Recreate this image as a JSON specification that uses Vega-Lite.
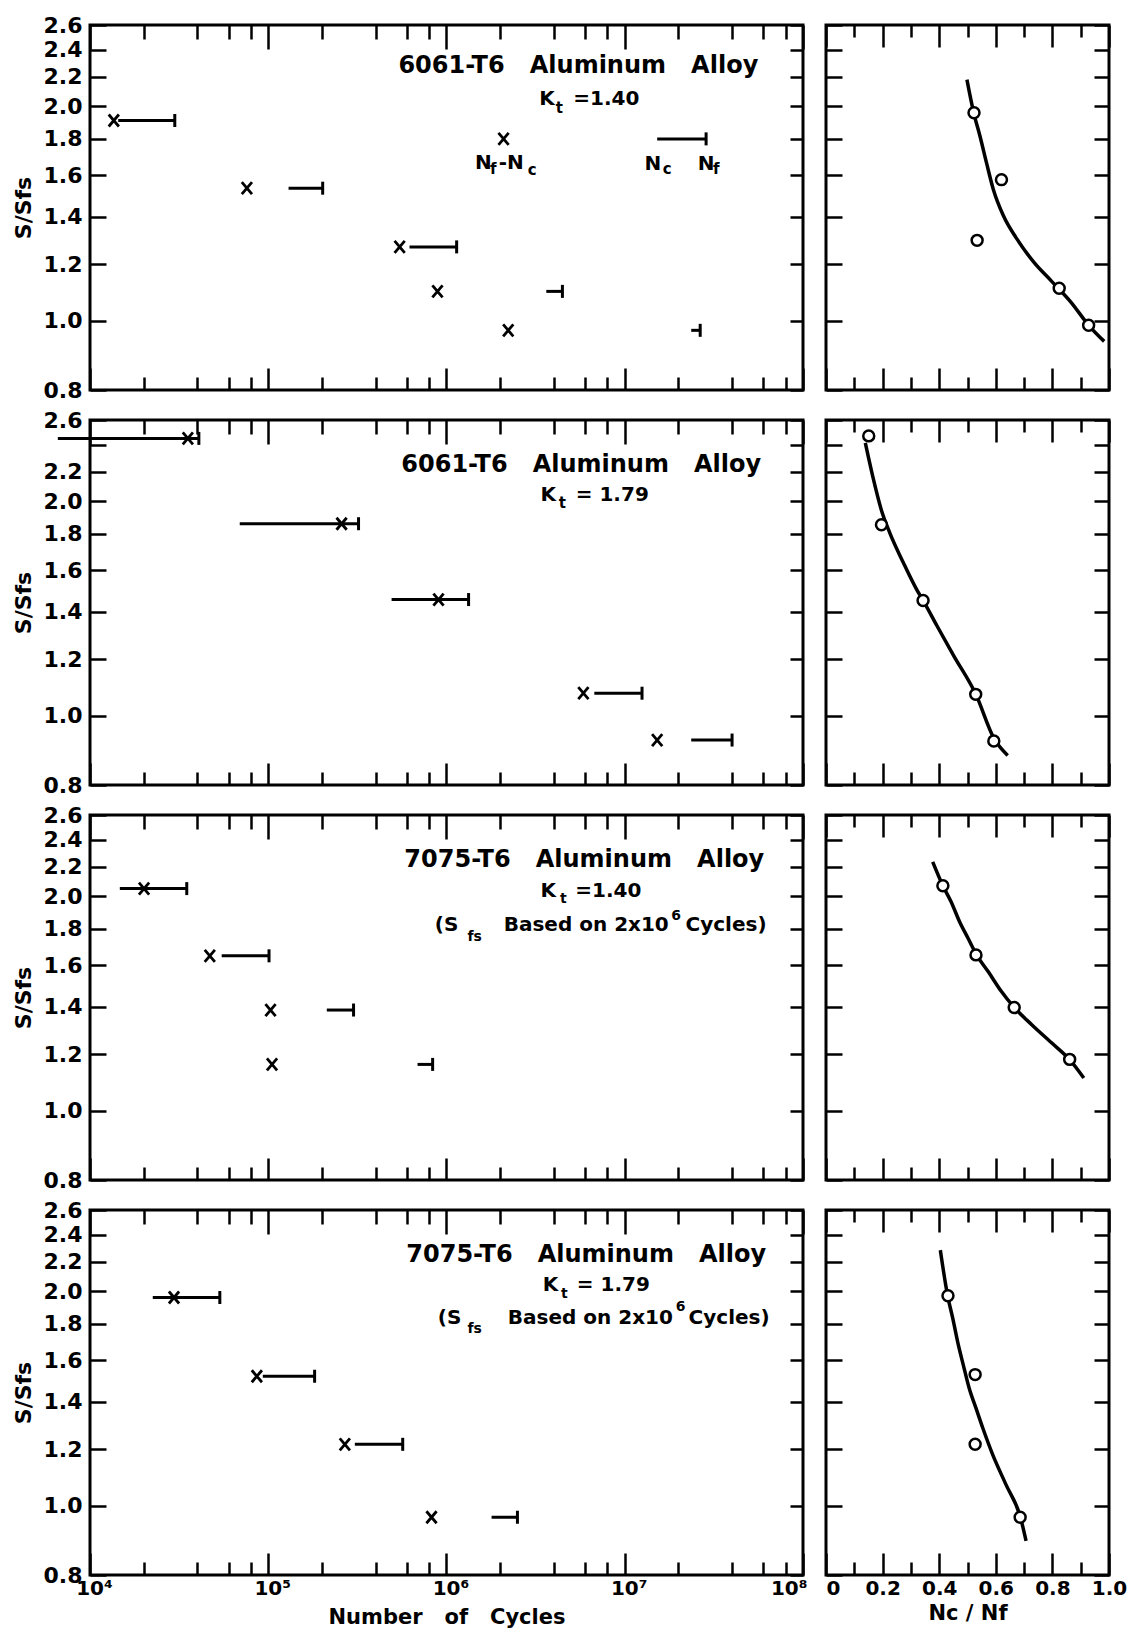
{
  "$schema": "https://vega.github.io/schema/vega-lite/v6.json",
  "background": "white",
  "padding": {"left": 10, "top": 12, "right": 10, "bottom": 6},
  "config": {
    "view": {"stroke": "black", "strokeWidth": 3},
    "font": "DejaVu Sans",
    "axis": {
      "domain": false, "grid": false, "tickSize": 0, "tickWidth": 2.5, "tickColor": "black",
      "labelFont": "DejaVu Sans", "labelFontWeight": "bold", "labelFontSize": 21, "labelColor": "black",
      "labelFlush": false, "labelOverlap": false,
      "titleFont": "DejaVu Sans", "titleFontWeight": "bold", "titleFontSize": 22, "titleColor": "black"
    }
  },
  "datasets": {
    "tests": [
      {"panel": 1, "S": 1.91, "Nc": 14400, "Nf": 29900, "Nx": 13600},
      {"panel": 1, "S": 1.535, "Nc": 130000, "Nf": 202000, "Nx": 75900},
      {"panel": 1, "S": 1.27, "Nc": 620000, "Nf": 1140000, "Nx": 546000},
      {"panel": 1, "S": 1.10, "Nc": 3630000, "Nf": 4470000, "Nx": 890000},
      {"panel": 1, "S": 0.97, "Nc": 23600000, "Nf": 26500000, "Nx": 2220000},
      {"panel": 1, "S": 1.80, "Nc": 15200000, "Nf": 28600000, "Nx": 2090000, "role": "key"},
      {"panel": 2, "S": 2.45, "Nc": 6600, "Nf": 40800, "Nx": 35400},
      {"panel": 2, "S": 1.86, "Nc": 69200, "Nf": 321000, "Nx": 258000},
      {"panel": 2, "S": 1.456, "Nc": 492000, "Nf": 1330000, "Nx": 902000},
      {"panel": 2, "S": 1.076, "Nc": 6750000, "Nf": 12500000, "Nx": 5860000},
      {"panel": 2, "S": 0.925, "Nc": 23600000, "Nf": 40000000, "Nx": 15200000},
      {"panel": 3, "S": 2.05, "Nc": 14700, "Nf": 34900, "Nx": 20100},
      {"panel": 3, "S": 1.65, "Nc": 54800, "Nf": 101000, "Nx": 47000},
      {"panel": 3, "S": 1.385, "Nc": 213000, "Nf": 301000, "Nx": 103000},
      {"panel": 3, "S": 1.162, "Nc": 688000, "Nf": 836000, "Nx": 105000},
      {"panel": 4, "S": 1.96, "Nc": 22500, "Nf": 53500, "Nx": 29600},
      {"panel": 4, "S": 1.52, "Nc": 93200, "Nf": 182000, "Nx": 86300},
      {"panel": 4, "S": 1.22, "Nc": 306000, "Nf": 568000, "Nx": 269000},
      {"panel": 4, "S": 0.964, "Nc": 1790000, "Nf": 2500000, "Nx": 824000}
    ],
    "ratios": [
      {"panel": 1, "r": 0.523, "S": 1.958},
      {"panel": 1, "r": 0.620, "S": 1.578},
      {"panel": 1, "r": 0.534, "S": 1.297},
      {"panel": 1, "r": 0.824, "S": 1.111},
      {"panel": 1, "r": 0.928, "S": 0.986},
      {"panel": 2, "r": 0.151, "S": 2.47},
      {"panel": 2, "r": 0.196, "S": 1.854},
      {"panel": 2, "r": 0.343, "S": 1.452},
      {"panel": 2, "r": 0.529, "S": 1.072},
      {"panel": 2, "r": 0.593, "S": 0.922},
      {"panel": 3, "r": 0.413, "S": 2.069},
      {"panel": 3, "r": 0.530, "S": 1.655},
      {"panel": 3, "r": 0.665, "S": 1.396},
      {"panel": 3, "r": 0.861, "S": 1.181},
      {"panel": 4, "r": 0.431, "S": 1.971},
      {"panel": 4, "r": 0.527, "S": 1.528},
      {"panel": 4, "r": 0.527, "S": 1.220},
      {"panel": 4, "r": 0.686, "S": 0.964}
    ],
    "curves": [
      {"panel": 1, "r": 0.498, "S": 2.180}, {"panel": 1, "r": 0.522, "S": 1.958}, {"panel": 1, "r": 0.544, "S": 1.817},
      {"panel": 1, "r": 0.567, "S": 1.667}, {"panel": 1, "r": 0.591, "S": 1.530}, {"panel": 1, "r": 0.627, "S": 1.404},
      {"panel": 1, "r": 0.675, "S": 1.302}, {"panel": 1, "r": 0.735, "S": 1.208}, {"panel": 1, "r": 0.795, "S": 1.139},
      {"panel": 1, "r": 0.866, "S": 1.062}, {"panel": 1, "r": 0.929, "S": 0.985}, {"panel": 1, "r": 0.983, "S": 0.936},
      {"panel": 2, "r": 0.139, "S": 2.414}, {"panel": 2, "r": 0.165, "S": 2.169}, {"panel": 2, "r": 0.195, "S": 1.948},
      {"panel": 2, "r": 0.225, "S": 1.807}, {"panel": 2, "r": 0.273, "S": 1.641}, {"panel": 2, "r": 0.320, "S": 1.505},
      {"panel": 2, "r": 0.344, "S": 1.450}, {"panel": 2, "r": 0.392, "S": 1.338}, {"panel": 2, "r": 0.451, "S": 1.215},
      {"panel": 2, "r": 0.529, "S": 1.073}, {"panel": 2, "r": 0.594, "S": 0.929}, {"panel": 2, "r": 0.642, "S": 0.880},
      {"panel": 3, "r": 0.377, "S": 2.235}, {"panel": 3, "r": 0.413, "S": 2.069}, {"panel": 3, "r": 0.442, "S": 1.965},
      {"panel": 3, "r": 0.472, "S": 1.842}, {"panel": 3, "r": 0.502, "S": 1.746}, {"panel": 3, "r": 0.531, "S": 1.658},
      {"panel": 3, "r": 0.573, "S": 1.568}, {"panel": 3, "r": 0.620, "S": 1.470}, {"panel": 3, "r": 0.664, "S": 1.398},
      {"panel": 3, "r": 0.727, "S": 1.321}, {"panel": 3, "r": 0.798, "S": 1.245}, {"panel": 3, "r": 0.861, "S": 1.180},
      {"panel": 3, "r": 0.911, "S": 1.112},
      {"panel": 4, "r": 0.404, "S": 2.284}, {"panel": 4, "r": 0.430, "S": 1.969}, {"panel": 4, "r": 0.448, "S": 1.832},
      {"panel": 4, "r": 0.465, "S": 1.700}, {"panel": 4, "r": 0.485, "S": 1.577}, {"panel": 4, "r": 0.506, "S": 1.462},
      {"panel": 4, "r": 0.530, "S": 1.371}, {"panel": 4, "r": 0.554, "S": 1.286}, {"panel": 4, "r": 0.589, "S": 1.180},
      {"panel": 4, "r": 0.636, "S": 1.071}, {"panel": 4, "r": 0.687, "S": 0.964}, {"panel": 4, "r": 0.707, "S": 0.893}
    ],
    "notes": [
      {"panel": 1, "role": "heading", "N": 5490000, "S": 2.279, "text": "6061-T6\u00a0\u00a0\u00a0Aluminum\u00a0\u00a0\u00a0Alloy"},
      {"panel": 1, "role": "label", "N": 3660000, "S": 2.049, "text": "K"},
      {"panel": 1, "role": "subscript", "N": 4300000, "S": 1.990, "text": "t"},
      {"panel": 1, "role": "label", "N": 7880000, "S": 2.049, "text": "=1.40"},
      {"panel": 1, "role": "label", "N": 1610000, "S": 1.667, "text": "N"},
      {"panel": 1, "role": "subscript", "N": 1830000, "S": 1.635, "text": "f"},
      {"panel": 1, "role": "label", "N": 2310000, "S": 1.667, "text": "-N"},
      {"panel": 1, "role": "subscript", "N": 3030000, "S": 1.630, "text": "c"},
      {"panel": 1, "role": "label", "N": 14400000, "S": 1.662, "text": "N"},
      {"panel": 1, "role": "subscript", "N": 17300000, "S": 1.635, "text": "c"},
      {"panel": 1, "role": "label", "N": 28600000, "S": 1.662, "text": "N"},
      {"panel": 1, "role": "subscript", "N": 32600000, "S": 1.635, "text": "f"},
      {"panel": 2, "role": "heading", "N": 5700000, "S": 2.249, "text": "6061-T6\u00a0\u00a0\u00a0Aluminum\u00a0\u00a0\u00a0Alloy"},
      {"panel": 2, "role": "label", "N": 3720000, "S": 2.042, "text": "K"},
      {"panel": 2, "role": "subscript", "N": 4470000, "S": 1.990, "text": "t"},
      {"panel": 2, "role": "label", "N": 8510000, "S": 2.042, "text": "= 1.79"},
      {"panel": 3, "role": "heading", "N": 5930000, "S": 2.249, "text": "7075-T6\u00a0\u00a0\u00a0Aluminum\u00a0\u00a0\u00a0Alloy"},
      {"panel": 3, "role": "label", "N": 3720000, "S": 2.036, "text": "K"},
      {"panel": 3, "role": "subscript", "N": 4520000, "S": 1.984, "text": "t"},
      {"panel": 3, "role": "label", "N": 8090000, "S": 2.036, "text": "=1.40"},
      {"panel": 3, "role": "label", "N": 1000000, "S": 1.824, "text": "(S"},
      {"panel": 3, "role": "subscript", "N": 1440000, "S": 1.755, "text": "fs"},
      {"panel": 3, "role": "label", "N": 6080000, "S": 1.824, "text": "Based on 2x10"},
      {"panel": 3, "role": "subscript", "N": 19400000, "S": 1.878, "text": "6"},
      {"panel": 3, "role": "label", "N": 37000000, "S": 1.824, "text": "Cycles)"},
      {"panel": 4, "role": "heading", "N": 6080000, "S": 2.249, "text": "7075-T6\u00a0\u00a0\u00a0Aluminum\u00a0\u00a0\u00a0Alloy"},
      {"panel": 4, "role": "label", "N": 3830000, "S": 2.042, "text": "K"},
      {"panel": 4, "role": "subscript", "N": 4580000, "S": 1.984, "text": "t"},
      {"panel": 4, "role": "label", "N": 8630000, "S": 2.042, "text": "= 1.79"},
      {"panel": 4, "role": "label", "N": 1040000, "S": 1.836, "text": "(S"},
      {"panel": 4, "role": "subscript", "N": 1440000, "S": 1.772, "text": "fs"},
      {"panel": 4, "role": "label", "N": 6410000, "S": 1.836, "text": "Based on 2x10"},
      {"panel": 4, "role": "subscript", "N": 20600000, "S": 1.903, "text": "6"},
      {"panel": 4, "role": "label", "N": 38500000, "S": 1.836, "text": "Cycles)"}
    ]
  },
  "columns": 2,
  "bounds": "flush",
  "spacing": {"row": 30, "column": 23},
  "concat": [
    {
      "width": 713, "height": 365,
      "layer": [
        {"data": {"name": "tests"}, "transform": [{"filter": "datum.panel == 1"}],
         "mark": {"type": "rule", "strokeWidth": 3, "color": "black", "clip": false},
         "encoding": {
           "x": {"field": "Nc", "type": "quantitative", "scale": {"type": "log", "domain": [10000, 100000000], "nice": false},
                 "axis": {"orient": "bottom", "labels": false, "title": null, "values": [10000, 20000, 40000, 60000, 80000, 100000, 200000, 400000, 600000, 800000, 1000000, 2000000, 4000000, 6000000, 8000000, 10000000, 20000000, 40000000, 60000000, 80000000, 100000000],
                          "encoding": {"ticks": {"y2": {"condition": {"test": "indexof([10000, 100000, 1000000, 10000000, 100000000], datum.value) >= 0", "value": -22}, "value": -13}}}}},
           "x2": {"field": "Nf"},
           "y": {"field": "S", "type": "quantitative", "scale": {"type": "log", "domain": [0.8, 2.6], "nice": false},
                 "axis": {"orient": "left", "values": [0.8, 1, 1.2, 1.4, 1.6, 1.8, 2, 2.2, 2.4, 2.6], "format": ".1f", "labelFontSize": 22, "labelPadding": 8, "title": "S/Sfs", "titlePadding": 8,
                          "encoding": {"ticks": {"x2": {"value": 16}}}}}
         }},
        {"data": {"name": "tests"}, "transform": [{"filter": "datum.panel == 1"}],
         "mark": {"type": "point", "shape": "M0,-1L0,1", "size": 169, "filled": false, "stroke": "black", "strokeWidth": 3, "opacity": 1},
         "encoding": {
           "x": {"field": "Nf", "type": "quantitative", "scale": {"type": "log", "domain": [10000, 100000000], "nice": false},
                 "axis": {"orient": "top", "labels": false, "title": null, "values": [10000, 20000, 40000, 60000, 80000, 100000, 200000, 400000, 600000, 800000, 1000000, 2000000, 4000000, 6000000, 8000000, 10000000, 20000000, 40000000, 60000000, 80000000, 100000000],
                          "encoding": {"ticks": {"y2": {"condition": {"test": "indexof([10000, 100000, 1000000, 10000000, 100000000], datum.value) >= 0", "value": 24}, "value": 14}}}}},
           "y": {"field": "S", "type": "quantitative", "scale": {"type": "log", "domain": [0.8, 2.6], "nice": false},
                 "axis": {"orient": "right", "labels": false, "title": null, "values": [0.8, 1, 1.2, 1.4, 1.6, 1.8, 2, 2.2, 2.4, 2.6],
                          "encoding": {"ticks": {"x2": {"value": -13}}}}}
         }},
        {"data": {"name": "tests"}, "transform": [{"filter": "datum.panel == 1"}],
         "mark": {"type": "point", "shape": "M-0.85,-1L0.85,1M-0.85,1L0.85,-1", "size": 144, "filled": false, "stroke": "black", "strokeWidth": 2.8, "opacity": 1},
         "encoding": {
           "x": {"field": "Nx", "type": "quantitative", "scale": {"type": "log", "domain": [10000, 100000000], "nice": false}, "axis": null},
           "y": {"field": "S", "type": "quantitative", "scale": {"type": "log", "domain": [0.8, 2.6], "nice": false}, "axis": null}
         }},
        {"data": {"name": "notes"}, "transform": [{"filter": "datum.panel == 1 && datum.role == 'heading'"}],
         "mark": {"type": "text", "font": "DejaVu Sans", "fontWeight": "bold", "fontSize": 24, "align": "center", "baseline": "middle", "color": "black"},
         "encoding": {
           "x": {"field": "N", "type": "quantitative", "scale": {"type": "log", "domain": [10000, 100000000], "nice": false}, "axis": null},
           "y": {"field": "S", "type": "quantitative", "scale": {"type": "log", "domain": [0.8, 2.6], "nice": false}, "axis": null},
           "text": {"field": "text"}
         }},
        {"data": {"name": "notes"}, "transform": [{"filter": "datum.panel == 1 && datum.role == 'label'"}],
         "mark": {"type": "text", "font": "DejaVu Sans", "fontWeight": "bold", "fontSize": 20, "align": "center", "baseline": "middle", "color": "black"},
         "encoding": {
           "x": {"field": "N", "type": "quantitative", "scale": {"type": "log", "domain": [10000, 100000000], "nice": false}, "axis": null},
           "y": {"field": "S", "type": "quantitative", "scale": {"type": "log", "domain": [0.8, 2.6], "nice": false}, "axis": null},
           "text": {"field": "text"}
         }},
        {"data": {"name": "notes"}, "transform": [{"filter": "datum.panel == 1 && datum.role == 'subscript'"}],
         "mark": {"type": "text", "font": "DejaVu Sans", "fontWeight": "bold", "fontSize": 15, "align": "center", "baseline": "middle", "color": "black"},
         "encoding": {
           "x": {"field": "N", "type": "quantitative", "scale": {"type": "log", "domain": [10000, 100000000], "nice": false}, "axis": null},
           "y": {"field": "S", "type": "quantitative", "scale": {"type": "log", "domain": [0.8, 2.6], "nice": false}, "axis": null},
           "text": {"field": "text"}
         }}
      ],
      "resolve": {"axis": {"x": "independent", "y": "independent"}}
    },
    {
      "width": 283, "height": 365,
      "layer": [
        {"data": {"name": "curves"}, "transform": [{"filter": "datum.panel == 1"}],
         "mark": {"type": "line", "strokeWidth": 3.5, "color": "black", "interpolate": "monotone"},
         "encoding": {
           "x": {"field": "r", "type": "quantitative", "scale": {"domain": [0, 1], "nice": false, "zero": false},
                 "axis": {"orient": "bottom", "labels": false, "title": null, "values": [0, 0.1, 0.2, 0.3, 0.4, 0.5, 0.6, 0.7, 0.8, 0.9, 1],
                          "encoding": {"ticks": {"y2": {"condition": {"test": "round(datum.value * 10) % 2 == 0", "value": -22}, "value": -13}}}}},
           "y": {"field": "S", "type": "quantitative", "scale": {"type": "log", "domain": [0.8, 2.6], "nice": false},
                 "axis": {"orient": "left", "labels": false, "title": null, "values": [0.8, 1, 1.2, 1.4, 1.6, 1.8, 2, 2.2, 2.4, 2.6],
                          "encoding": {"ticks": {"x2": {"value": 16}}}}}
         }},
        {"data": {"name": "ratios"}, "transform": [{"filter": "datum.panel == 1"}],
         "mark": {"type": "point", "shape": "circle", "size": 120, "filled": true, "fill": "white", "stroke": "black", "strokeWidth": 2.5, "opacity": 1},
         "encoding": {
           "x": {"field": "r", "type": "quantitative", "scale": {"domain": [0, 1], "nice": false, "zero": false},
                 "axis": {"orient": "top", "labels": false, "title": null, "values": [0, 0.1, 0.2, 0.3, 0.4, 0.5, 0.6, 0.7, 0.8, 0.9, 1],
                          "encoding": {"ticks": {"y2": {"condition": {"test": "round(datum.value * 10) % 2 == 0", "value": 22}, "value": 12}}}}},
           "y": {"field": "S", "type": "quantitative", "scale": {"type": "log", "domain": [0.8, 2.6], "nice": false},
                 "axis": {"orient": "right", "labels": false, "title": null, "values": [0.8, 1, 1.2, 1.4, 1.6, 1.8, 2, 2.2, 2.4, 2.6],
                          "encoding": {"ticks": {"x2": {"value": -15}}}}}
         }}
      ],
      "resolve": {"axis": {"x": "independent", "y": "independent"}}
    },
    {
      "width": 713, "height": 365,
      "layer": [
        {"data": {"name": "tests"}, "transform": [{"filter": "datum.panel == 2"}],
         "mark": {"type": "rule", "strokeWidth": 3, "color": "black", "clip": false},
         "encoding": {
           "x": {"field": "Nc", "type": "quantitative", "scale": {"type": "log", "domain": [10000, 100000000], "nice": false},
                 "axis": {"orient": "bottom", "labels": false, "title": null, "values": [10000, 20000, 40000, 60000, 80000, 100000, 200000, 400000, 600000, 800000, 1000000, 2000000, 4000000, 6000000, 8000000, 10000000, 20000000, 40000000, 60000000, 80000000, 100000000],
                          "encoding": {"ticks": {"y2": {"condition": {"test": "indexof([10000, 100000, 1000000, 10000000, 100000000], datum.value) >= 0", "value": -22}, "value": -13}}}}},
           "x2": {"field": "Nf"},
           "y": {"field": "S", "type": "quantitative", "scale": {"type": "log", "domain": [0.8, 2.6], "nice": false},
                 "axis": {"orient": "left", "values": [0.8, 1, 1.2, 1.4, 1.6, 1.8, 2, 2.2, 2.4, 2.6], "labelExpr": "abs(datum.value - 2.4) < 0.01 ? '' : format(datum.value, '.1f')", "labelFontSize": 22, "labelPadding": 8, "title": "S/Sfs", "titlePadding": 8,
                          "encoding": {"ticks": {"x2": {"value": 16}}}}}
         }},
        {"data": {"name": "tests"}, "transform": [{"filter": "datum.panel == 2"}],
         "mark": {"type": "point", "shape": "M0,-1L0,1", "size": 169, "filled": false, "stroke": "black", "strokeWidth": 3, "opacity": 1},
         "encoding": {
           "x": {"field": "Nf", "type": "quantitative", "scale": {"type": "log", "domain": [10000, 100000000], "nice": false},
                 "axis": {"orient": "top", "labels": false, "title": null, "values": [10000, 20000, 40000, 60000, 80000, 100000, 200000, 400000, 600000, 800000, 1000000, 2000000, 4000000, 6000000, 8000000, 10000000, 20000000, 40000000, 60000000, 80000000, 100000000],
                          "encoding": {"ticks": {"y2": {"condition": {"test": "indexof([10000, 100000, 1000000, 10000000, 100000000], datum.value) >= 0", "value": 24}, "value": 14}}}}},
           "y": {"field": "S", "type": "quantitative", "scale": {"type": "log", "domain": [0.8, 2.6], "nice": false},
                 "axis": {"orient": "right", "labels": false, "title": null, "values": [0.8, 1, 1.2, 1.4, 1.6, 1.8, 2, 2.2, 2.4, 2.6],
                          "encoding": {"ticks": {"x2": {"value": -13}}}}}
         }},
        {"data": {"name": "tests"}, "transform": [{"filter": "datum.panel == 2"}],
         "mark": {"type": "point", "shape": "M-0.85,-1L0.85,1M-0.85,1L0.85,-1", "size": 144, "filled": false, "stroke": "black", "strokeWidth": 2.8, "opacity": 1},
         "encoding": {
           "x": {"field": "Nx", "type": "quantitative", "scale": {"type": "log", "domain": [10000, 100000000], "nice": false}, "axis": null},
           "y": {"field": "S", "type": "quantitative", "scale": {"type": "log", "domain": [0.8, 2.6], "nice": false}, "axis": null}
         }},
        {"data": {"name": "notes"}, "transform": [{"filter": "datum.panel == 2 && datum.role == 'heading'"}],
         "mark": {"type": "text", "font": "DejaVu Sans", "fontWeight": "bold", "fontSize": 24, "align": "center", "baseline": "middle", "color": "black"},
         "encoding": {
           "x": {"field": "N", "type": "quantitative", "scale": {"type": "log", "domain": [10000, 100000000], "nice": false}, "axis": null},
           "y": {"field": "S", "type": "quantitative", "scale": {"type": "log", "domain": [0.8, 2.6], "nice": false}, "axis": null},
           "text": {"field": "text"}
         }},
        {"data": {"name": "notes"}, "transform": [{"filter": "datum.panel == 2 && datum.role == 'label'"}],
         "mark": {"type": "text", "font": "DejaVu Sans", "fontWeight": "bold", "fontSize": 20, "align": "center", "baseline": "middle", "color": "black"},
         "encoding": {
           "x": {"field": "N", "type": "quantitative", "scale": {"type": "log", "domain": [10000, 100000000], "nice": false}, "axis": null},
           "y": {"field": "S", "type": "quantitative", "scale": {"type": "log", "domain": [0.8, 2.6], "nice": false}, "axis": null},
           "text": {"field": "text"}
         }},
        {"data": {"name": "notes"}, "transform": [{"filter": "datum.panel == 2 && datum.role == 'subscript'"}],
         "mark": {"type": "text", "font": "DejaVu Sans", "fontWeight": "bold", "fontSize": 15, "align": "center", "baseline": "middle", "color": "black"},
         "encoding": {
           "x": {"field": "N", "type": "quantitative", "scale": {"type": "log", "domain": [10000, 100000000], "nice": false}, "axis": null},
           "y": {"field": "S", "type": "quantitative", "scale": {"type": "log", "domain": [0.8, 2.6], "nice": false}, "axis": null},
           "text": {"field": "text"}
         }}
      ],
      "resolve": {"axis": {"x": "independent", "y": "independent"}}
    },
    {
      "width": 283, "height": 365,
      "layer": [
        {"data": {"name": "curves"}, "transform": [{"filter": "datum.panel == 2"}],
         "mark": {"type": "line", "strokeWidth": 3.5, "color": "black", "interpolate": "monotone"},
         "encoding": {
           "x": {"field": "r", "type": "quantitative", "scale": {"domain": [0, 1], "nice": false, "zero": false},
                 "axis": {"orient": "bottom", "labels": false, "title": null, "values": [0, 0.1, 0.2, 0.3, 0.4, 0.5, 0.6, 0.7, 0.8, 0.9, 1],
                          "encoding": {"ticks": {"y2": {"condition": {"test": "round(datum.value * 10) % 2 == 0", "value": -22}, "value": -13}}}}},
           "y": {"field": "S", "type": "quantitative", "scale": {"type": "log", "domain": [0.8, 2.6], "nice": false},
                 "axis": {"orient": "left", "labels": false, "title": null, "values": [0.8, 1, 1.2, 1.4, 1.6, 1.8, 2, 2.2, 2.4, 2.6],
                          "encoding": {"ticks": {"x2": {"value": 16}}}}}
         }},
        {"data": {"name": "ratios"}, "transform": [{"filter": "datum.panel == 2"}],
         "mark": {"type": "point", "shape": "circle", "size": 120, "filled": true, "fill": "white", "stroke": "black", "strokeWidth": 2.5, "opacity": 1},
         "encoding": {
           "x": {"field": "r", "type": "quantitative", "scale": {"domain": [0, 1], "nice": false, "zero": false},
                 "axis": {"orient": "top", "labels": false, "title": null, "values": [0, 0.1, 0.2, 0.3, 0.4, 0.5, 0.6, 0.7, 0.8, 0.9, 1],
                          "encoding": {"ticks": {"y2": {"condition": {"test": "round(datum.value * 10) % 2 == 0", "value": 22}, "value": 12}}}}},
           "y": {"field": "S", "type": "quantitative", "scale": {"type": "log", "domain": [0.8, 2.6], "nice": false},
                 "axis": {"orient": "right", "labels": false, "title": null, "values": [0.8, 1, 1.2, 1.4, 1.6, 1.8, 2, 2.2, 2.4, 2.6],
                          "encoding": {"ticks": {"x2": {"value": -15}}}}}
         }}
      ],
      "resolve": {"axis": {"x": "independent", "y": "independent"}}
    },
    {
      "width": 713, "height": 365,
      "layer": [
        {"data": {"name": "tests"}, "transform": [{"filter": "datum.panel == 3"}],
         "mark": {"type": "rule", "strokeWidth": 3, "color": "black", "clip": false},
         "encoding": {
           "x": {"field": "Nc", "type": "quantitative", "scale": {"type": "log", "domain": [10000, 100000000], "nice": false},
                 "axis": {"orient": "bottom", "labels": false, "title": null, "values": [10000, 20000, 40000, 60000, 80000, 100000, 200000, 400000, 600000, 800000, 1000000, 2000000, 4000000, 6000000, 8000000, 10000000, 20000000, 40000000, 60000000, 80000000, 100000000],
                          "encoding": {"ticks": {"y2": {"condition": {"test": "indexof([10000, 100000, 1000000, 10000000, 100000000], datum.value) >= 0", "value": -22}, "value": -13}}}}},
           "x2": {"field": "Nf"},
           "y": {"field": "S", "type": "quantitative", "scale": {"type": "log", "domain": [0.8, 2.6], "nice": false},
                 "axis": {"orient": "left", "values": [0.8, 1, 1.2, 1.4, 1.6, 1.8, 2, 2.2, 2.4, 2.6], "format": ".1f", "labelFontSize": 22, "labelPadding": 8, "title": "S/Sfs", "titlePadding": 8,
                          "encoding": {"ticks": {"x2": {"value": 16}}}}}
         }},
        {"data": {"name": "tests"}, "transform": [{"filter": "datum.panel == 3"}],
         "mark": {"type": "point", "shape": "M0,-1L0,1", "size": 169, "filled": false, "stroke": "black", "strokeWidth": 3, "opacity": 1},
         "encoding": {
           "x": {"field": "Nf", "type": "quantitative", "scale": {"type": "log", "domain": [10000, 100000000], "nice": false},
                 "axis": {"orient": "top", "labels": false, "title": null, "values": [10000, 20000, 40000, 60000, 80000, 100000, 200000, 400000, 600000, 800000, 1000000, 2000000, 4000000, 6000000, 8000000, 10000000, 20000000, 40000000, 60000000, 80000000, 100000000],
                          "encoding": {"ticks": {"y2": {"condition": {"test": "indexof([10000, 100000, 1000000, 10000000, 100000000], datum.value) >= 0", "value": 24}, "value": 14}}}}},
           "y": {"field": "S", "type": "quantitative", "scale": {"type": "log", "domain": [0.8, 2.6], "nice": false},
                 "axis": {"orient": "right", "labels": false, "title": null, "values": [0.8, 1, 1.2, 1.4, 1.6, 1.8, 2, 2.2, 2.4, 2.6],
                          "encoding": {"ticks": {"x2": {"value": -13}}}}}
         }},
        {"data": {"name": "tests"}, "transform": [{"filter": "datum.panel == 3"}],
         "mark": {"type": "point", "shape": "M-0.85,-1L0.85,1M-0.85,1L0.85,-1", "size": 144, "filled": false, "stroke": "black", "strokeWidth": 2.8, "opacity": 1},
         "encoding": {
           "x": {"field": "Nx", "type": "quantitative", "scale": {"type": "log", "domain": [10000, 100000000], "nice": false}, "axis": null},
           "y": {"field": "S", "type": "quantitative", "scale": {"type": "log", "domain": [0.8, 2.6], "nice": false}, "axis": null}
         }},
        {"data": {"name": "notes"}, "transform": [{"filter": "datum.panel == 3 && datum.role == 'heading'"}],
         "mark": {"type": "text", "font": "DejaVu Sans", "fontWeight": "bold", "fontSize": 24, "align": "center", "baseline": "middle", "color": "black"},
         "encoding": {
           "x": {"field": "N", "type": "quantitative", "scale": {"type": "log", "domain": [10000, 100000000], "nice": false}, "axis": null},
           "y": {"field": "S", "type": "quantitative", "scale": {"type": "log", "domain": [0.8, 2.6], "nice": false}, "axis": null},
           "text": {"field": "text"}
         }},
        {"data": {"name": "notes"}, "transform": [{"filter": "datum.panel == 3 && datum.role == 'label'"}],
         "mark": {"type": "text", "font": "DejaVu Sans", "fontWeight": "bold", "fontSize": 20, "align": "center", "baseline": "middle", "color": "black"},
         "encoding": {
           "x": {"field": "N", "type": "quantitative", "scale": {"type": "log", "domain": [10000, 100000000], "nice": false}, "axis": null},
           "y": {"field": "S", "type": "quantitative", "scale": {"type": "log", "domain": [0.8, 2.6], "nice": false}, "axis": null},
           "text": {"field": "text"}
         }},
        {"data": {"name": "notes"}, "transform": [{"filter": "datum.panel == 3 && datum.role == 'subscript'"}],
         "mark": {"type": "text", "font": "DejaVu Sans", "fontWeight": "bold", "fontSize": 14, "align": "center", "baseline": "middle", "color": "black"},
         "encoding": {
           "x": {"field": "N", "type": "quantitative", "scale": {"type": "log", "domain": [10000, 100000000], "nice": false}, "axis": null},
           "y": {"field": "S", "type": "quantitative", "scale": {"type": "log", "domain": [0.8, 2.6], "nice": false}, "axis": null},
           "text": {"field": "text"}
         }}
      ],
      "resolve": {"axis": {"x": "independent", "y": "independent"}}
    },
    {
      "width": 283, "height": 365,
      "layer": [
        {"data": {"name": "curves"}, "transform": [{"filter": "datum.panel == 3"}],
         "mark": {"type": "line", "strokeWidth": 3.5, "color": "black", "interpolate": "monotone"},
         "encoding": {
           "x": {"field": "r", "type": "quantitative", "scale": {"domain": [0, 1], "nice": false, "zero": false},
                 "axis": {"orient": "bottom", "labels": false, "title": null, "values": [0, 0.1, 0.2, 0.3, 0.4, 0.5, 0.6, 0.7, 0.8, 0.9, 1],
                          "encoding": {"ticks": {"y2": {"condition": {"test": "round(datum.value * 10) % 2 == 0", "value": -22}, "value": -13}}}}},
           "y": {"field": "S", "type": "quantitative", "scale": {"type": "log", "domain": [0.8, 2.6], "nice": false},
                 "axis": {"orient": "left", "labels": false, "title": null, "values": [0.8, 1, 1.2, 1.4, 1.6, 1.8, 2, 2.2, 2.4, 2.6],
                          "encoding": {"ticks": {"x2": {"value": 16}}}}}
         }},
        {"data": {"name": "ratios"}, "transform": [{"filter": "datum.panel == 3"}],
         "mark": {"type": "point", "shape": "circle", "size": 120, "filled": true, "fill": "white", "stroke": "black", "strokeWidth": 2.5, "opacity": 1},
         "encoding": {
           "x": {"field": "r", "type": "quantitative", "scale": {"domain": [0, 1], "nice": false, "zero": false},
                 "axis": {"orient": "top", "labels": false, "title": null, "values": [0, 0.1, 0.2, 0.3, 0.4, 0.5, 0.6, 0.7, 0.8, 0.9, 1],
                          "encoding": {"ticks": {"y2": {"condition": {"test": "round(datum.value * 10) % 2 == 0", "value": 22}, "value": 12}}}}},
           "y": {"field": "S", "type": "quantitative", "scale": {"type": "log", "domain": [0.8, 2.6], "nice": false},
                 "axis": {"orient": "right", "labels": false, "title": null, "values": [0.8, 1, 1.2, 1.4, 1.6, 1.8, 2, 2.2, 2.4, 2.6],
                          "encoding": {"ticks": {"x2": {"value": -15}}}}}
         }}
      ],
      "resolve": {"axis": {"x": "independent", "y": "independent"}}
    },
    {
      "width": 713, "height": 365,
      "layer": [
        {"data": {"name": "tests"}, "transform": [{"filter": "datum.panel == 4"}],
         "mark": {"type": "rule", "strokeWidth": 3, "color": "black", "clip": false},
         "encoding": {
           "x": {"field": "Nc", "type": "quantitative", "scale": {"type": "log", "domain": [10000, 100000000], "nice": false},
                 "axis": {"orient": "bottom", "title": "Number\u00a0\u00a0\u00a0of\u00a0\u00a0\u00a0Cycles", "titleFontSize": 21, "titlePadding": 8, "labelFontSize": 20, "labelPadding": 3, "labelOffset": 4,
                          "labelAlign": {"condition": {"test": "datum.value == 100000000", "value": "right"}, "value": "center"},
                          "labelExpr": "datum.value == 10000 ? '10⁴' : datum.value == 100000 ? '10⁵' : datum.value == 1000000 ? '10⁶' : datum.value == 10000000 ? '10⁷' : datum.value == 100000000 ? '10⁸' : ''",
                          "values": [10000, 20000, 40000, 60000, 80000, 100000, 200000, 400000, 600000, 800000, 1000000, 2000000, 4000000, 6000000, 8000000, 10000000, 20000000, 40000000, 60000000, 80000000, 100000000],
                          "encoding": {"ticks": {"y2": {"condition": {"test": "indexof([10000, 100000, 1000000, 10000000, 100000000], datum.value) >= 0", "value": -22}, "value": -13}}}}},
           "x2": {"field": "Nf"},
           "y": {"field": "S", "type": "quantitative", "scale": {"type": "log", "domain": [0.8, 2.6], "nice": false},
                 "axis": {"orient": "left", "values": [0.8, 1, 1.2, 1.4, 1.6, 1.8, 2, 2.2, 2.4, 2.6], "format": ".1f", "labelFontSize": 22, "labelPadding": 8, "title": "S/Sfs", "titlePadding": 8,
                          "encoding": {"ticks": {"x2": {"value": 16}}}}}
         }},
        {"data": {"name": "tests"}, "transform": [{"filter": "datum.panel == 4"}],
         "mark": {"type": "point", "shape": "M0,-1L0,1", "size": 169, "filled": false, "stroke": "black", "strokeWidth": 3, "opacity": 1},
         "encoding": {
           "x": {"field": "Nf", "type": "quantitative", "scale": {"type": "log", "domain": [10000, 100000000], "nice": false},
                 "axis": {"orient": "top", "labels": false, "title": null, "values": [10000, 20000, 40000, 60000, 80000, 100000, 200000, 400000, 600000, 800000, 1000000, 2000000, 4000000, 6000000, 8000000, 10000000, 20000000, 40000000, 60000000, 80000000, 100000000],
                          "encoding": {"ticks": {"y2": {"condition": {"test": "indexof([10000, 100000, 1000000, 10000000, 100000000], datum.value) >= 0", "value": 24}, "value": 14}}}}},
           "y": {"field": "S", "type": "quantitative", "scale": {"type": "log", "domain": [0.8, 2.6], "nice": false},
                 "axis": {"orient": "right", "labels": false, "title": null, "values": [0.8, 1, 1.2, 1.4, 1.6, 1.8, 2, 2.2, 2.4, 2.6],
                          "encoding": {"ticks": {"x2": {"value": -13}}}}}
         }},
        {"data": {"name": "tests"}, "transform": [{"filter": "datum.panel == 4"}],
         "mark": {"type": "point", "shape": "M-0.85,-1L0.85,1M-0.85,1L0.85,-1", "size": 144, "filled": false, "stroke": "black", "strokeWidth": 2.8, "opacity": 1},
         "encoding": {
           "x": {"field": "Nx", "type": "quantitative", "scale": {"type": "log", "domain": [10000, 100000000], "nice": false}, "axis": null},
           "y": {"field": "S", "type": "quantitative", "scale": {"type": "log", "domain": [0.8, 2.6], "nice": false}, "axis": null}
         }},
        {"data": {"name": "notes"}, "transform": [{"filter": "datum.panel == 4 && datum.role == 'heading'"}],
         "mark": {"type": "text", "font": "DejaVu Sans", "fontWeight": "bold", "fontSize": 24, "align": "center", "baseline": "middle", "color": "black"},
         "encoding": {
           "x": {"field": "N", "type": "quantitative", "scale": {"type": "log", "domain": [10000, 100000000], "nice": false}, "axis": null},
           "y": {"field": "S", "type": "quantitative", "scale": {"type": "log", "domain": [0.8, 2.6], "nice": false}, "axis": null},
           "text": {"field": "text"}
         }},
        {"data": {"name": "notes"}, "transform": [{"filter": "datum.panel == 4 && datum.role == 'label'"}],
         "mark": {"type": "text", "font": "DejaVu Sans", "fontWeight": "bold", "fontSize": 20, "align": "center", "baseline": "middle", "color": "black"},
         "encoding": {
           "x": {"field": "N", "type": "quantitative", "scale": {"type": "log", "domain": [10000, 100000000], "nice": false}, "axis": null},
           "y": {"field": "S", "type": "quantitative", "scale": {"type": "log", "domain": [0.8, 2.6], "nice": false}, "axis": null},
           "text": {"field": "text"}
         }},
        {"data": {"name": "notes"}, "transform": [{"filter": "datum.panel == 4 && datum.role == 'subscript'"}],
         "mark": {"type": "text", "font": "DejaVu Sans", "fontWeight": "bold", "fontSize": 14, "align": "center", "baseline": "middle", "color": "black"},
         "encoding": {
           "x": {"field": "N", "type": "quantitative", "scale": {"type": "log", "domain": [10000, 100000000], "nice": false}, "axis": null},
           "y": {"field": "S", "type": "quantitative", "scale": {"type": "log", "domain": [0.8, 2.6], "nice": false}, "axis": null},
           "text": {"field": "text"}
         }}
      ],
      "resolve": {"axis": {"x": "independent", "y": "independent"}}
    },
    {
      "width": 283, "height": 365,
      "layer": [
        {"data": {"name": "curves"}, "transform": [{"filter": "datum.panel == 4"}],
         "mark": {"type": "line", "strokeWidth": 3.5, "color": "black", "interpolate": "monotone"},
         "encoding": {
           "x": {"field": "r", "type": "quantitative", "scale": {"domain": [0, 1], "nice": false, "zero": false},
                 "axis": {"orient": "bottom", "title": "Nc / Nf", "titleFontSize": 21, "titlePadding": 4, "labelFontSize": 20, "labelPadding": 3,
                          "labelAlign": {"condition": {"test": "datum.value == 0", "value": "left"}, "value": "center"},
                          "labelExpr": "round(datum.value * 10) % 2 == 0 ? (datum.value == 0 ? '0' : format(datum.value, '.1f')) : ''",
                          "values": [0, 0.1, 0.2, 0.3, 0.4, 0.5, 0.6, 0.7, 0.8, 0.9, 1],
                          "encoding": {"ticks": {"y2": {"condition": {"test": "round(datum.value * 10) % 2 == 0", "value": -22}, "value": -13}}}}},
           "y": {"field": "S", "type": "quantitative", "scale": {"type": "log", "domain": [0.8, 2.6], "nice": false},
                 "axis": {"orient": "left", "labels": false, "title": null, "values": [0.8, 1, 1.2, 1.4, 1.6, 1.8, 2, 2.2, 2.4, 2.6],
                          "encoding": {"ticks": {"x2": {"value": 16}}}}}
         }},
        {"data": {"name": "ratios"}, "transform": [{"filter": "datum.panel == 4"}],
         "mark": {"type": "point", "shape": "circle", "size": 120, "filled": true, "fill": "white", "stroke": "black", "strokeWidth": 2.5, "opacity": 1},
         "encoding": {
           "x": {"field": "r", "type": "quantitative", "scale": {"domain": [0, 1], "nice": false, "zero": false},
                 "axis": {"orient": "top", "labels": false, "title": null, "values": [0, 0.1, 0.2, 0.3, 0.4, 0.5, 0.6, 0.7, 0.8, 0.9, 1],
                          "encoding": {"ticks": {"y2": {"condition": {"test": "round(datum.value * 10) % 2 == 0", "value": 22}, "value": 12}}}}},
           "y": {"field": "S", "type": "quantitative", "scale": {"type": "log", "domain": [0.8, 2.6], "nice": false},
                 "axis": {"orient": "right", "labels": false, "title": null, "values": [0.8, 1, 1.2, 1.4, 1.6, 1.8, 2, 2.2, 2.4, 2.6],
                          "encoding": {"ticks": {"x2": {"value": -15}}}}}
         }}
      ],
      "resolve": {"axis": {"x": "independent", "y": "independent"}}
    }
  ]
}
